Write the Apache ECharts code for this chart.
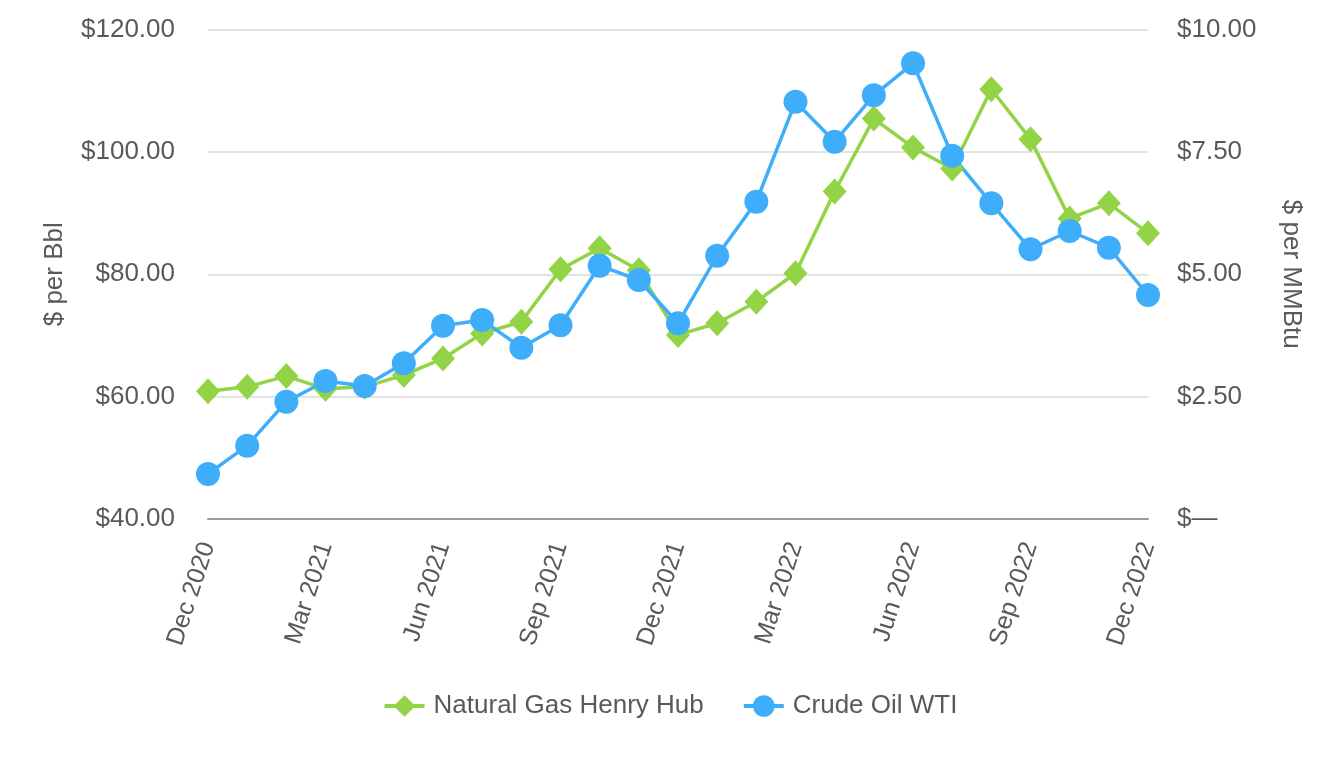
<!DOCTYPE html>
<html>
<head>
<meta charset="utf-8">
<script src="https://cdn.jsdelivr.net/npm/echarts@6/dist/echarts.min.js"></script>
<style>
html,body{margin:0;padding:0;background:#fff;}
#chart{width:1340px;height:760px;}
</style>
</head>
<body>
<div id="chart"></div>
<script>
const categories = ['Dec 2020','Jan 2021','Feb 2021','Mar 2021','Apr 2021','May 2021','Jun 2021','Jul 2021','Aug 2021','Sep 2021','Oct 2021','Nov 2021','Dec 2021','Jan 2022','Feb 2022','Mar 2022','Apr 2022','May 2022','Jun 2022','Jul 2022','Aug 2022','Sep 2022','Oct 2022','Nov 2022','Dec 2022'];
const naturalGas = [2.61,2.70,2.92,2.66,2.70,2.94,3.28,3.79,4.03,5.10,5.53,5.08,3.76,4.00,4.44,5.02,6.69,8.18,7.59,7.16,8.78,7.76,6.14,6.45,5.84];
const crudeOil = [47.36,51.98,59.17,62.56,61.74,65.45,71.59,72.53,68.0,71.66,81.4,79.06,71.99,83.03,91.86,108.2,101.66,109.25,114.48,99.38,91.6,84.08,87.07,84.34,76.61];
const leftTicks = [40,120,20];
const rightTicks = [0,10,2.5];

const chart = echarts.init(document.getElementById('chart'));
const txt = '#595959';
const font = 'Liberation Sans, Arial, sans-serif';
const green = '#92d446';
const blue = '#3eaefa';
chart.setOption({
  animation:false,
  textStyle:{fontFamily:font},
  grid:{left:208,right:192,top:29.5,bottom:241,containLabel:false},
  legend:{
    bottom:36,left:'center',itemWidth:40,itemHeight:27,itemGap:38,
    lineStyle:{width:4},
    textStyle:{color:txt,fontSize:26,fontFamily:font,padding:[0,0,0,4]},
    data:['Natural Gas Henry Hub','Crude Oil WTI']
  },
  xAxis:{
    type:'category',data:categories,boundaryGap:false,
    axisLine:{lineStyle:{color:'#999999',width:2}},
    axisTick:{show:false},
    axisLabel:{interval:2,rotate:72,color:txt,fontSize:25,margin:24,fontFamily:font}
  },
  yAxis:[
    {type:'value',min:leftTicks[0],max:leftTicks[1],interval:leftTicks[2],
     name:'$ per Bbl',nameLocation:'middle',nameGap:140,nameRotate:90,
     nameTextStyle:{color:txt,fontSize:26,fontFamily:font},
     axisLine:{show:false},axisTick:{show:false},
     axisLabel:{color:txt,fontSize:26,margin:33,formatter:v=>'$'+v.toFixed(2)},
     splitLine:{lineStyle:{color:'#e3e3e3',width:2}}},
    {type:'value',min:rightTicks[0],max:rightTicks[1],interval:rightTicks[2],
     name:'$ per MMBtu',nameLocation:'middle',nameGap:130,nameRotate:-90,
     nameTextStyle:{color:txt,fontSize:26,fontFamily:font},
     axisLine:{show:false},axisTick:{show:false},
     axisLabel:{color:txt,fontSize:26,margin:29,formatter:v=>v===0?'$—':'$'+v.toFixed(2)},
     splitLine:{show:false}}
  ],
  series:[
    {name:'Natural Gas Henry Hub',type:'line',yAxisIndex:1,data:naturalGas,
     symbol:'diamond',symbolSize:[24,26],showAllSymbol:true,
     lineStyle:{color:green,width:3.5},itemStyle:{color:green}},
    {name:'Crude Oil WTI',type:'line',yAxisIndex:0,data:crudeOil,
     symbol:'circle',symbolSize:24,showAllSymbol:true,
     lineStyle:{color:blue,width:3.5},itemStyle:{color:blue}}
  ]
});
</script>
</body>
</html>
